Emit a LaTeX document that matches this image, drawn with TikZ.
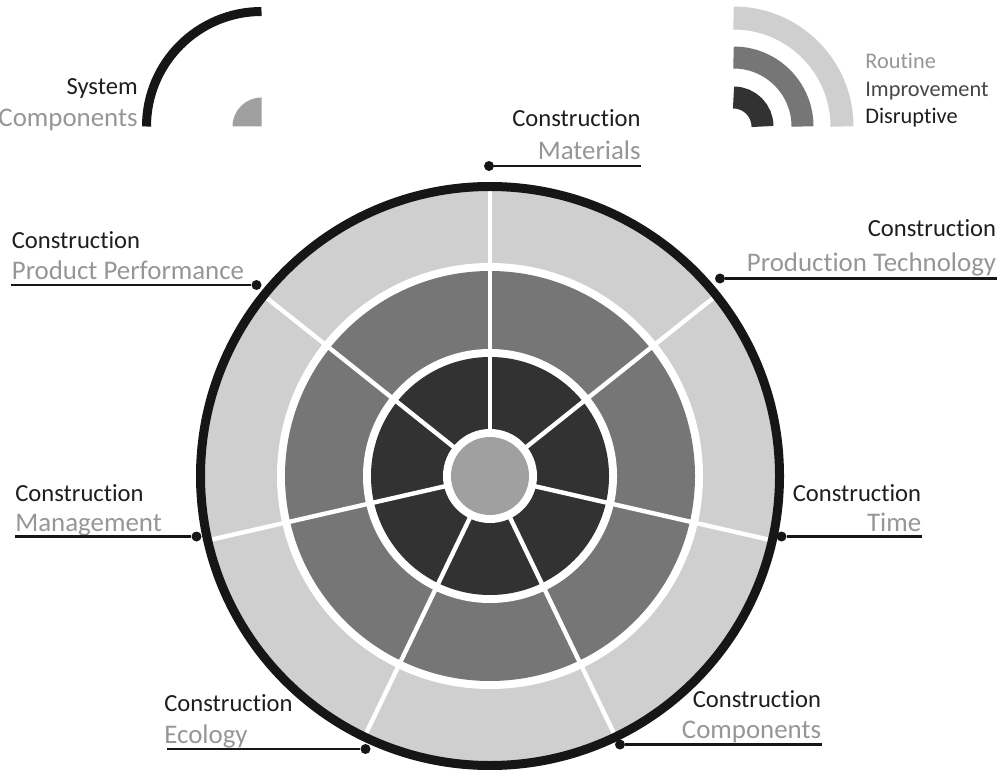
\documentclass[tikz,border=0pt]{standalone}
\usepackage{fontspec}
\setmainfont{Carlito}[Ligatures={NoCommon,NoContextual}]
\usepackage{xcolor}
\usepackage{tikz}
\usetikzlibrary{positioning, calc}
\definecolor{ringLight}{RGB}{207,207,207}
\definecolor{ringMid}{RGB}{118,118,118}
\definecolor{ringDark}{RGB}{50,50,50}
\definecolor{coreGray}{RGB}{160,160,160}
\definecolor{rimBlack}{RGB}{22,22,22}
\definecolor{labelGray}{RGB}{150,150,150}
\definecolor{labelMid}{RGB}{70,70,70}
\definecolor{labelDark}{RGB}{30,30,30}

\begin{document}
\begin{tikzpicture}[
    title/.style={font=\fontsize{14}{16}\selectfont, text=labelDark, inner sep=0pt},
    sub/.style={font=\fontsize{15.3}{17}\selectfont, text=labelGray, inner sep=0pt},
    legend/.style={font=\fontsize{12.7}{15}\selectfont, inner sep=0pt, anchor=base west},
    pin/.style={circle, fill=rimBlack, inner sep=0pt, minimum size=0.2cm},
    leader/.style={line width=1.6pt, rimBlack},
    spoke/.style={white, line width=2.5pt},
    band/.style={line width=#1, line cap=butt}
]
\useasboundingbox (0,0) rectangle (20.1,15.38);
\coordinate (c) at (9.8,5.86);

\fill[ringLight] (c) circle (5.75);
\fill[white] (c) circle (4.26);
\fill[ringMid] (c) circle (4.10);
\fill[white] (c) circle (2.54);
\fill[ringDark] (c) circle (2.38);
\foreach \a in {0,...,6}
  \draw[spoke] ($(c)+(90+\a*360/7:0.9)$) -- ($(c)+(90+\a*360/7:5.75)$);
\fill[white] (c) circle (0.94);
\fill[coreGray] (c) circle (0.78);
\draw[rimBlack, line width=0.18cm] (c) circle (5.79);

\node[pin] (dMat) at (9.78,12.06) {};
\coordinate (eMat) at (12.82,12.06);
\node[sub, anchor=base east] (sMat) at (12.82,12.18) {Materials};
\node[title, anchor=base east] (tMat) at (12.82,12.84) {Construction};
\draw[leader] (dMat) -- (eMat);

\node[pin] (dTech) at (14.40,9.81) {};
\coordinate (eTech) at (19.93,9.81);
\node[sub, anchor=base east] (sTech) at (19.93,9.95) {Production Technology};
\node[title, anchor=base east] (tTech) at (19.93,10.65) {Construction};
\draw[leader] (dTech) -- (eTech);

\node[pin] (dPerf) at (5.13,9.68) {};
\coordinate (ePerf) at (0.23,9.68);
\node[sub, anchor=base west] (sPerf) at (0.23,9.78) {Product Performance};
\node[title, anchor=base west] (tPerf) at (0.23,10.41) {Construction};
\draw[leader] (dPerf) -- (ePerf);

\node[pin] (dMan) at (3.93,4.65) {};
\coordinate (eMan) at (0.30,4.65);
\node[sub, anchor=base west] (sMan) at (0.30,4.75) {Management};
\node[title, anchor=base west] (tMan) at (0.30,5.36) {Construction};
\draw[leader] (dMan) -- (eMan);

\node[pin] (dTime) at (15.63,4.65) {};
\coordinate (eTime) at (18.43,4.65);
\node[sub, anchor=base east] (sTime) at (18.43,4.75) {Time};
\node[title, anchor=base east] (tTime) at (18.43,5.36) {Construction};
\draw[leader] (dTime) -- (eTime);

\node[pin] (dEco) at (7.31,0.40) {};
\coordinate (eEco) at (3.33,0.40);
\node[sub, anchor=base west] (sEco) at (3.28,0.51) {Ecology};
\node[title, anchor=base west] (tEco) at (3.28,1.15) {Construction};
\draw[leader] (dEco) -- (eEco);

\node[pin] (dComp) at (12.40,0.49) {};
\coordinate (eComp) at (16.43,0.49);
\node[sub, anchor=base east] (sComp) at (16.43,0.61) {Components};
\node[title, anchor=base east] (tComp) at (16.43,1.24) {Construction};
\draw[leader] (dComp) -- (eComp);

\coordinate (sysC) at (5.23,12.85);
\draw[rimBlack, band=0.18cm] ($(sysC)+(180:2.30)$) arc[start angle=180, end angle=90, radius=2.30];
\fill[coreGray] (sysC) -- ($(sysC)+(180:0.58)$) arc[start angle=180, end angle=90, radius=0.58] -- cycle;
\node[title, anchor=base east] (sys) at (2.76,13.48) {System};
\node[sub, anchor=base east] (comps) at (2.76,12.85) {Components};

\coordinate (lvlC) at (14.67,12.85);
\draw[ringLight, band=0.46cm] ($(lvlC)+(0:2.17)$) arc[start angle=0, end angle=90, radius=2.17];
\draw[ringMid, band=0.44cm] ($(lvlC)+(0:1.38)$) arc[start angle=0, end angle=90, radius=1.38];
\draw[ringDark, band=0.44cm] ($(lvlC)+(0:0.58)$) arc[start angle=0, end angle=90, radius=0.58];
\node[legend, text=labelGray] (routine) at (17.30,14.01) {Routine};
\node[legend, text=labelMid] (improve) at (17.30,13.45) {Improvement};
\node[legend, text=labelDark] (disrupt) at (17.30,12.91) {Disruptive};
\end{tikzpicture}
\end{document}
